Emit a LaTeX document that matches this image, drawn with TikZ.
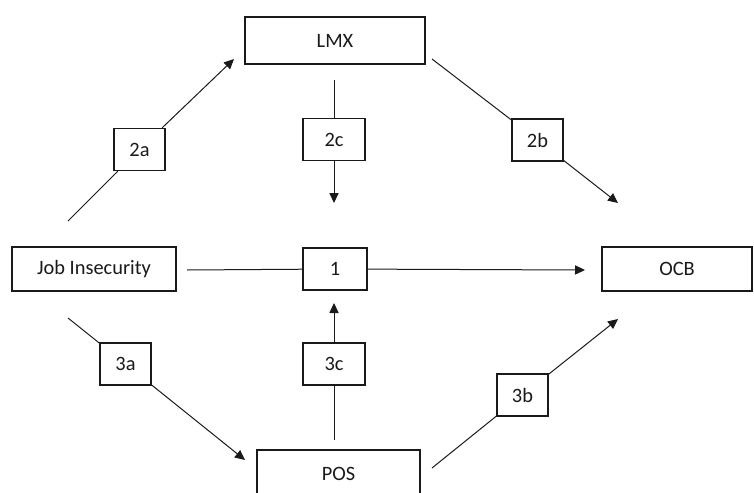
\documentclass[tikz,border=0pt]{standalone}
\usepackage{fontspec}
\setmainfont{Carlito}
\usetikzlibrary{arrows.meta, positioning}
\definecolor{cink}{HTML}{1A1A1A}
\tikzset{
  every picture/.style={font=\fontsize{10.2}{12}\selectfont, line width=0.5pt},
  box/.style={draw=cink, fill=white, line width=0.65pt, text=cink, inner sep=0pt, minimum width=#1, minimum height=22pt},
  box/.default=82pt,
  lbl/.style={box=25.5pt, minimum height=21pt},
  link/.style={draw=cink, shorten <=0pt},
  arrow/.style={link, -{Triangle[length=5pt, width=4.6pt]}},
}

\begin{document}
\begin{tikzpicture}[x=0.5pt, y=-0.5pt]
  \useasboundingbox (0,0) rectangle (754,492);
  \clip (0,0) rectangle (754,492);

  % main variables
  \node[box=90pt, minimum height=23.5pt] (lmx) at (335,40.5) {LMX};
  \node[box] (job) at (94,269) {Job Insecurity};
  \node[box=75pt] (ocb) at (677,269) {OCB};
  \node[box=81.5pt, minimum height=23.5pt] (pos) at (338.5,473.5) {POS};

  % path labels
  \node[lbl, minimum width=32pt] (p1) at (335,269) {1};
  \node[lbl] (p2a) at (139.5,149.5) {2a};
  \node[lbl] (p2b) at (537.5,140) {2b};
  \node[lbl, minimum width=31pt] (p2c) at (334,139.5) {2c};
  \node[lbl] (p3a) at (125.5,364) {3a};
  \node[lbl] (p3b) at (522.5,395) {3b};
  \node[lbl, minimum width=31pt] (p3c) at (334,364) {3c};

  % free ends of the connectors
  \coordinate (s1) at (187,270);   \coordinate (t1) at (585,270);
  \coordinate (s2a) at (68,221);   \coordinate (t2a) at (234,59);
  \coordinate (s2b) at (432,59);   \coordinate (t2b) at (618,203);
  \coordinate (s2c) at (334,80);   \coordinate (t2c) at (334,203);
  \coordinate (s3a) at (68,318);   \coordinate (t3a) at (245,460);
  \coordinate (s3b) at (432,468);  \coordinate (t3b) at (618,319);
  \coordinate (s3c) at (334,440);  \coordinate (t3c) at (334,303);

  \foreach \p in {1, 2a, 2b, 2c, 3a, 3b, 3c} {
    \draw[link] (s\p) -- (p\p);
    \draw[arrow] (p\p) -- (t\p);
  }
\end{tikzpicture}
\end{document}
